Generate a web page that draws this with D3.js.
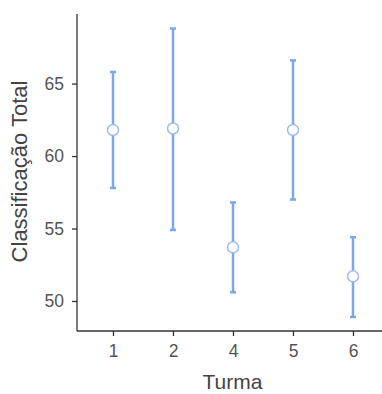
<!DOCTYPE html>
<html>
<head>
<meta charset="utf-8">
<script src="https://cdn.jsdelivr.net/npm/d3@7"></script>
<style>
  html, body { margin: 0; padding: 0; background: #fff; }
  svg { display: block; font-family: "Liberation Sans", Arial, sans-serif; }
</style>
</head>
<body>
<svg id="chart" width="382" height="394"></svg>
<script>
// Class groups and summary statistics (mean with interval limits)
const turmas = ["1", "2", "4", "5", "6"];
const means  = [61.8, 61.9, 53.7, 61.8, 51.7];
const lowers = [57.8, 54.9, 50.6, 57.0, 48.9];
const uppers = [65.8, 68.8, 56.8, 66.6, 54.4];
const yTicks = [50, 55, 60, 65];

const svg = d3.select("#chart");
const plotLeft = 77, plotRight = 382, plotTop = 14, plotBottom = 331;

const x = d3.scalePoint().domain(turmas).range([plotLeft, 389]).padding(0.6);
const y = d3.scaleLinear().domain([47.93, 69.8]).range([plotBottom, plotTop]);

const lineCol = "#7ba7eb";

// Axes
const yAxis = svg.append("g").attr("transform", `translate(${plotLeft},0)`)
  .call(d3.axisLeft(y).tickValues(yTicks).tickSize(5).tickPadding(8).tickFormat(d3.format("d")));
yAxis.select(".domain").attr("d", `M0,${plotTop}V${plotBottom}`);

const xAxis = svg.append("g").attr("transform", `translate(0,${plotBottom})`)
  .call(d3.axisBottom(x).tickSize(5).tickPadding(9));
xAxis.select(".domain").attr("d", `M${plotLeft},0H${plotRight}`);

[yAxis, xAxis].forEach(g => {
  g.select(".domain").attr("stroke", "#333").attr("stroke-width", 1.3);
  g.selectAll(".tick line").attr("stroke", "#333").attr("stroke-width", 1.3);
  g.selectAll(".tick text").attr("fill", "#555").style("font-size", "17.5px");
});

// Axis titles
svg.append("text")
  .attr("x", 232.5).attr("y", 389)
  .attr("text-anchor", "middle").attr("fill", "#444")
  .style("font-size", "21px").text("Turma");

svg.append("text")
  .attr("transform", `translate(27,171.5) rotate(-90)`)
  .attr("text-anchor", "middle").attr("fill", "#444")
  .style("font-size", "22px").text("Classificação Total");

// Error bars with mean markers
const g = svg.append("g");
turmas.forEach((t, i) => {
  const cx = x(t);
  g.append("line").attr("x1", cx).attr("x2", cx)
    .attr("y1", y(lowers[i])).attr("y2", y(uppers[i]))
    .attr("stroke", lineCol).attr("stroke-width", 2.5);
  [lowers[i], uppers[i]].forEach(v => {
    g.append("line").attr("x1", cx - 3).attr("x2", cx + 3)
      .attr("y1", y(v)).attr("y2", y(v))
      .attr("stroke", lineCol).attr("stroke-width", 2.5);
  });
  g.append("circle").attr("cx", cx).attr("cy", y(means[i])).attr("r", 5.5)
    .attr("fill", "#fff").attr("stroke", "#9dbdf0").attr("stroke-width", 1.5);
});
</script>
</body>
</html>
